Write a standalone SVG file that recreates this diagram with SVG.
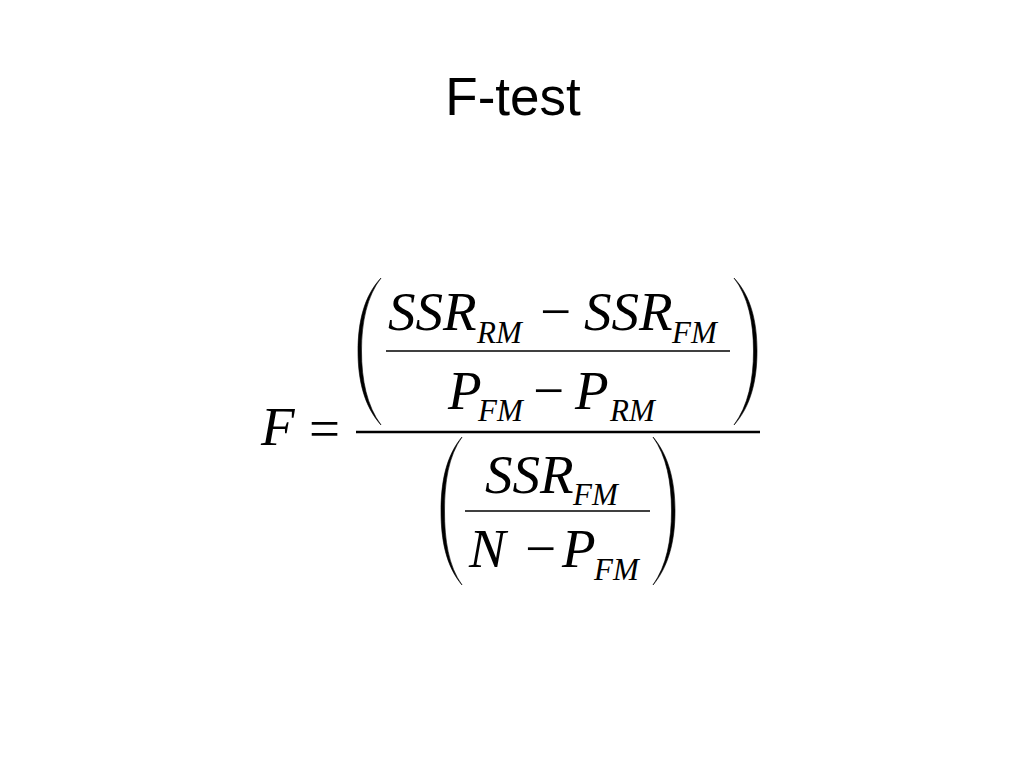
<svg xmlns="http://www.w3.org/2000/svg" width="1024" height="768" viewBox="0 0 1024 768">
<style>
.t{font-family:"Liberation Sans",Arial,sans-serif;font-size:53px;fill:#000}
.m{font-family:"Liberation Serif","Times New Roman",serif;font-style:italic;font-size:55px;fill:#000}
.s{font-family:"Liberation Serif","Times New Roman",serif;font-style:italic;font-size:31px;fill:#000}
.o{font-family:"Liberation Serif","Times New Roman",serif;font-size:55px;fill:#000}
.p{fill:#000;stroke:#000;stroke-width:0.6}
</style>
<rect width="1024" height="768" fill="#fff"/>
<text id="title" class="t" x="513" y="115" text-anchor="middle">F-test</text>
<g id="formula">
<text class="m" x="261" y="445">F</text>
<text class="o" x="309" y="447">=</text>
<line x1="356" y1="432" x2="760" y2="432" stroke="#000" stroke-width="2.4"/>
<!-- top numerator -->
<path class="p" d="M381,278 C364,296 358,322 358,351 C358,380 364,406 381,425 C367,406 361.5,380 361.5,351 C361.5,322 367,296 381,278 Z"/>
<path class="p" d="M734,278 C751,296 757,322 757,351 C757,380 751,406 734,425 C748,406 753.5,380 753.5,351 C753.5,322 748,296 734,278 Z"/>
<text class="m" x="388" y="330">SSR</text>
<text class="s" x="477" y="343">RM</text>
<text class="o" x="540" y="330">−</text>
<text class="m" x="584" y="330">SSR</text>
<text class="s" x="672" y="343">FM</text>
<line x1="386" y1="351" x2="730" y2="351" stroke="#000" stroke-width="1.4"/>
<text class="m" x="448" y="409">P</text>
<text class="s" x="478" y="421">FM</text>
<text class="o" x="533" y="409">−</text>
<text class="m" x="575" y="409">P</text>
<text class="s" x="610" y="421">RM</text>
<!-- denominator -->
<path class="p" d="M462,437 C446,456 441,482 441,511 C441,540 446,566 462,585 C448.5,566 444.5,540 444.5,511 C444.5,482 448.5,456 462,437 Z"/>
<path class="p" d="M653,437 C669,456 675,482 675,511 C675,540 669,566 653,585 C666.5,566 671.5,540 671.5,511 C671.5,482 666.5,456 653,437 Z"/>
<text class="m" x="485" y="493">SSR</text>
<text class="s" x="573" y="505">FM</text>
<line x1="465" y1="511" x2="650" y2="511" stroke="#000" stroke-width="1.4"/>
<text class="m" x="469" y="567">N</text>
<text class="o" x="525" y="567">−</text>
<text class="m" x="562" y="567">P</text>
<text class="s" x="594" y="580">FM</text>
</g>
</svg>
